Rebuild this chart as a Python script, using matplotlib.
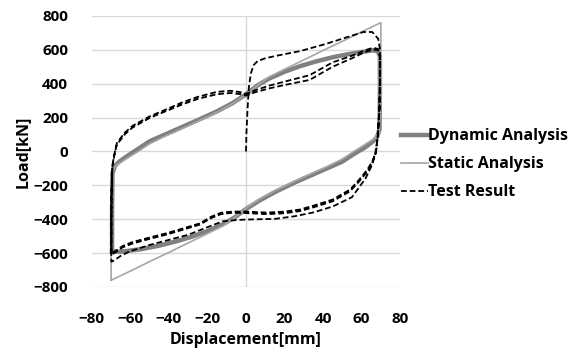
import matplotlib
matplotlib.use("Agg")
import matplotlib.pyplot as plt
from matplotlib.lines import Line2D

# ---- Dynamic analysis loop (ascending and descending branches) ----
dyn_up_x = [-69.5, -69.5, -69.3, -68.0, -66.0, -62.0, -56.0, -50.0, -42.0, -34.0, -25.0, -15.0, -7.0, 0.0,
            6.0, 12.0, 20.0, 28.0, 36.0, 45.0, 54.0, 62.0, 66.0, 68.5, 69.5]
dyn_up_y = [-590, -350, -130, -85, -62, -30, 15, 60, 100, 140, 185, 237, 285, 337,
            390, 430, 470, 503, 530, 556, 576, 590, 597, 590, 560]
dyn_dn_x = [69.5, 69.5, 69.3, 68.0, 66.0, 62.0, 56.0, 50.0, 42.0, 34.0, 25.0, 15.0, 7.0, 0.0,
            -6.0, -12.0, -20.0, -28.0, -36.0, -45.0, -54.0, -62.0, -66.0, -68.5, -69.5]
dyn_dn_y = [560, 350, 130, 85, 60, 25, -15, -60, -100, -140, -185, -240, -290, -340,
            -390, -430, -470, -503, -530, -556, -576, -588, -592, -590, -590]

# ---- Static analysis loop ----
sta_up_x = [-70.0, -70.0, -69.0, -67.0, -63.0, -56.0, -50.0, -42.0, -34.0, -25.0, -15.0, -7.0, 0.0,
            6.0, 12.0, 20.0, 30.0, 40.0, 50.0, 60.0, 70.0]
sta_up_y = [-760, -300, -110, -80, -50, 0, 45, 90, 130, 178, 232, 282, 335,
            390, 440, 485, 540, 596, 650, 706, 760]
sta_dn_x = [70.0, 70.0, 69.0, 67.0, 63.0, 56.0, 50.0, 42.0, 34.0, 25.0, 15.0, 7.0, 0.0,
            -6.0, -12.0, -20.0, -30.0, -40.0, -50.0, -60.0, -70.0]
sta_dn_y = [760, 300, 110, 80, 50, 0, -45, -90, -130, -178, -232, -282, -335,
            -390, -440, -485, -540, -596, -650, -706, -760]

# ---- Test result: monotonic first loading then repeated cycles ----
test_init_x = [0.0, 0.2, 0.8, 1.5, 2.5, 4.0, 6.0, 10.0, 16.0, 28.0, 41.0, 54.0, 61.0, 65.5, 68.6, 69.6, 69.6]
test_init_y = [0, 100, 250, 380, 460, 510, 533, 550, 565, 592, 633, 680, 705, 705, 665, 600, 450]

test_dn1_x = [69.6, 69.3, 68.5, 67.5, 65.5, 63.0, 58.5, 54.0, 45.0, 35.0, 28.0, 20.0, 11.0, 5.0, 0.0,
              -7.0, -13.0, -18.0, -24.0, -33.0, -41.0, -50.0, -59.0, -64.0, -67.0, -69.5]
test_dn1_y = [450, 250, 100, 0, -60, -107, -170, -225, -284, -320, -343, -355, -361, -358, -355,
              -355, -362, -385, -425, -455, -482, -508, -535, -558, -582, -600]
test_up1_x = [-69.8, -69.8, -69.3, -68.0, -67.0, -63.0, -59.0, -50.0, -40.0, -33.0, -25.0, -15.0, -8.0,
              -3.0, 0.0, 5.0, 12.0, 20.0, 33.0, 45.0, 55.0, 62.0, 66.0, 68.5, 69.5, 69.5]
test_up1_y = [-600, -250, -80, 0, 50, 110, 150, 207, 255, 290, 322, 352, 358,
              350, 340, 362, 388, 412, 450, 526, 565, 598, 612, 605, 560, 400]

test_dn2_x = [69.5, 69.2, 68.4, 67.4, 65.5, 63.0, 58.5, 54.0, 45.0, 35.0, 28.0, 20.0, 11.0, 5.0, 0.0,
              -7.0, -13.0, -18.0, -24.0, -33.0, -41.0, -50.0, -59.0, -64.0, -67.0, -69.6]
test_dn2_y = [400, 250, 90, -10, -70, -118, -180, -235, -294, -330, -352, -365, -370, -367, -364,
              -362, -370, -393, -432, -463, -490, -516, -544, -566, -590, -610]
test_up2_x = [-69.9, -69.9, -69.4, -68.1, -67.0, -63.0, -59.0, -50.0, -40.0, -33.0, -25.0, -15.0, -8.0,
              -3.0, 0.0, 5.0, 12.0, 20.0, 33.0, 45.0, 55.0, 62.0, 66.0, 68.5, 69.6, 69.6]
test_up2_y = [-610, -250, -90, -10, 40, 100, 140, 198, 245, 278, 310, 338, 345,
              338, 330, 350, 372, 392, 422, 500, 550, 588, 600, 598, 560, 400]

test_dn3_x = [69.6, 69.2, 68.3, 67.0, 65.0, 62.0, 55.0, 45.0, 35.0, 25.0, 15.0, 5.0, 0.0,
              -5.0, -12.0, -20.0, -30.0, -40.0, -50.0, -60.0, -65.0, -68.0, -69.6]
test_dn3_y = [400, 250, 80, -20, -90, -160, -270, -325, -360, -383, -398, -401, -402,
              -405, -412, -447, -492, -522, -552, -588, -616, -640, -650]
test_up3_x = [-69.9, -69.9, -69.6, -69.3]
test_up3_y = [-650, -400, -200, -100]

x_ticks = [-80, -60, -40, -20, 0, 20, 40, 60, 80]
y_ticks = [-800, -600, -400, -200, 0, 200, 400, 600, 800]

series_labels = ["Dynamic Analysis", "Static Analysis", "Test Result"]

FONT = "Open Sans"
plt.rcParams["font.family"] = [FONT, "DejaVu Sans"]
plt.rcParams["font.weight"] = "bold"

fig = plt.figure(figsize=(5.85, 3.53), dpi=100)
ax = fig.add_axes([0.157, 0.187, 0.527, 0.768])

dyn_color = "#808080"
sta_color = "#a6a6a6"
test_style = dict(color="black", lw=1.3, ls=(0, (3.2, 1.6)))

ax.plot(dyn_up_x + dyn_dn_x, dyn_up_y + dyn_dn_y, color=dyn_color, lw=3.2,
        solid_joinstyle="round", zorder=3)
ax.plot(sta_up_x + sta_dn_x, sta_up_y + sta_dn_y, color=sta_color, lw=1.2, zorder=4)

test_x = (test_init_x + test_dn1_x + test_up1_x + test_dn2_x + test_up2_x
          + test_dn3_x + test_up3_x)
test_y = (test_init_y + test_dn1_y + test_up1_y + test_dn2_y + test_up2_y
          + test_dn3_y + test_up3_y)
ax.plot(test_x, test_y, zorder=5, **test_style)

ax.set_xlim(x_ticks[0], x_ticks[-1])
ax.set_ylim(y_ticks[0], y_ticks[-1])
ax.set_xticks(x_ticks)
ax.set_yticks(y_ticks)
ax.tick_params(length=0, labelsize=11, colors="black")
ax.tick_params(axis="y", pad=17)
ax.tick_params(axis="x", pad=18)
for s in ax.spines.values():
    s.set_visible(False)
ax.yaxis.grid(True, color="#d9d9d9", lw=1.0)
ax.axvline(0, color="#d9d9d9", lw=1.0, zorder=1)
ax.set_axisbelow(True)

ax.set_xlabel("Displacement[mm]", fontsize=11.5, fontweight="bold", labelpad=4)
ax.set_ylabel("Load[kN]", fontsize=11.5, fontweight="bold", labelpad=2)

handles = [
    Line2D([], [], color=dyn_color, lw=3.2),
    Line2D([], [], color=sta_color, lw=1.2),
    Line2D([], [], **test_style),
]
fig.legend(handles, series_labels, loc="center left", bbox_to_anchor=(0.675, 0.535),
           frameon=False, fontsize=11.5, handlelength=1.65, handletextpad=0.0,
           labelspacing=0.75, borderaxespad=0)

fig.savefig("out.png", dpi=100, facecolor="white")
